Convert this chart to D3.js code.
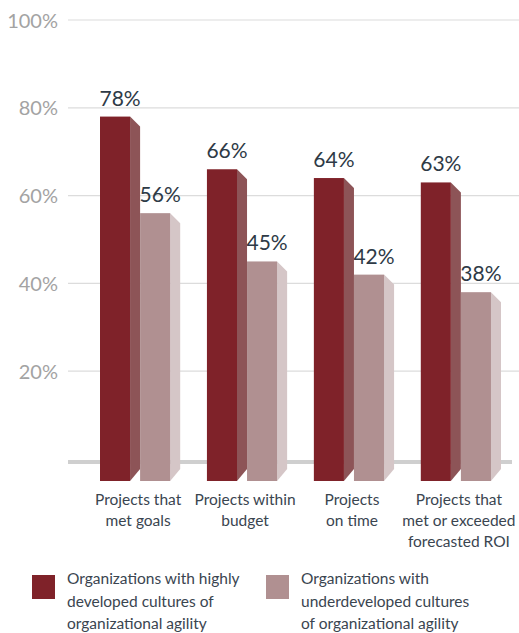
<!DOCTYPE html>
<html>
<head>
<meta charset="utf-8">
<script src="https://cdn.jsdelivr.net/npm/d3@7"></script>
<style>
  html, body { margin: 0; padding: 0; background: #fff; }
  svg { display: block; font-family: Lato, "Noto Sans", sans-serif; }
</style>
</head>
<body>
<svg id="chart" width="519" height="633"></svg>
<script>
// Share of projects reaching each outcome, by agility culture
const categories = [
  ["Projects that", "met goals"],
  ["Projects within", "budget"],
  ["Projects", "on time"],
  ["Projects that", "met or exceeded", "forecasted ROI"]
];
const seriesNames = [
  ["Organizations with highly", "developed cultures of", "organizational agility"],
  ["Organizations with", "underdeveloped cultures", "of organizational agility"]
];
const highlyDeveloped = [78, 66, 64, 63];
const underdeveloped = [56, 45, 42, 38];
const tickValues = [20, 40, 60, 80, 100];

const seriesValues = [highlyDeveloped, underdeveloped];
const frontColors = ["#7f2229", "#b09091"];
const sideColors = ["#8d5457", "#d5c6c7"];

const svg = d3.select("#chart");

const y = d3.scaleLinear().domain([0, 100]).range([459, 20]);
const x0 = d3.scaleBand().domain(d3.range(categories.length))
  .range([100, 501]).paddingInner(0.25).paddingOuter(0);
const x1 = d3.scaleBand().domain([0, 1]).range([0, x0.bandwidth()]);
const frontW = x1.step() * 0.75;
const depth = x1.step() - frontW;
const floorDrop = 22;

// gridlines and tick labels
const yAxis = d3.axisLeft(y).tickValues(tickValues).tickFormat(d => d + "%").tickSize(0).tickPadding(0);
const axisG = svg.append("g").attr("transform", "translate(58,0)").call(yAxis);
axisG.select(".domain").remove();
axisG.selectAll("text")
  .attr("font-family", "Lato, 'Noto Sans', sans-serif")
  .attr("font-size", 20)
  .attr("fill", "#a3a3a3")
  .attr("dy", "0.35em");

svg.append("g").selectAll("line").data(tickValues).join("line")
  .attr("x1", 68).attr("x2", 519)
  .attr("y1", d => y(d)).attr("y2", d => y(d))
  .attr("stroke", "#dcdcdc").attr("stroke-width", 1.2);

// floor line
svg.append("line")
  .attr("x1", 68).attr("x2", 512)
  .attr("y1", y(0) + 3).attr("y2", y(0) + 3)
  .attr("stroke", "#cfcfcf").attr("stroke-width", 4);

// bars with a shaded side face
const groups = svg.append("g").selectAll("g").data(categories).join("g")
  .attr("transform", (d, i) => `translate(${x0(i)},0)`);

groups.each(function(cat, ci) {
  const g = d3.select(this);
  seriesValues.forEach((vals, si) => {
    const v = vals[ci];
    const left = x1(si);
    const top = y(v);
    const bottom = y(0) + floorDrop;
    g.append("polygon")
      .attr("points", [
        [left + frontW, top],
        [left + frontW + depth, top + 10],
        [left + frontW + depth, bottom - 12],
        [left + frontW, bottom]
      ].map(p => p.join(",")).join(" "))
      .attr("fill", sideColors[si]);
    g.append("rect")
      .attr("x", left).attr("y", top)
      .attr("width", frontW).attr("height", bottom - top)
      .attr("fill", frontColors[si]);
    g.append("text")
      .attr("x", left + (frontW + depth) / 2)
      .attr("y", top - 11)
      .attr("text-anchor", "middle")
      .attr("font-size", 21)
      .attr("fill", "#2e3a46")
      .text(v + "%");
  });
  const label = g.append("text")
    .attr("text-anchor", "middle")
    .attr("font-size", 15.5)
    .attr("fill", "#3a4550");
  cat.forEach((line, li) => {
    label.append("tspan")
      .attr("x", x0.bandwidth() / 2 - 2)
      .attr("y", 505 + li * 21)
      .text(line);
  });
});

// legend
const legendX = [32, 266];
seriesNames.forEach((lines, si) => {
  const lg = svg.append("g").attr("transform", `translate(${legendX[si]},575)`);
  lg.append("rect").attr("width", 23).attr("height", 24).attr("fill", frontColors[si]);
  const t = lg.append("text").attr("font-size", 15.5).attr("fill", "#3a4550");
  lines.forEach((line, li) => {
    t.append("tspan").attr("x", 35).attr("y", 9 + li * 22.5).text(line);
  });
});
</script>
</body>
</html>
